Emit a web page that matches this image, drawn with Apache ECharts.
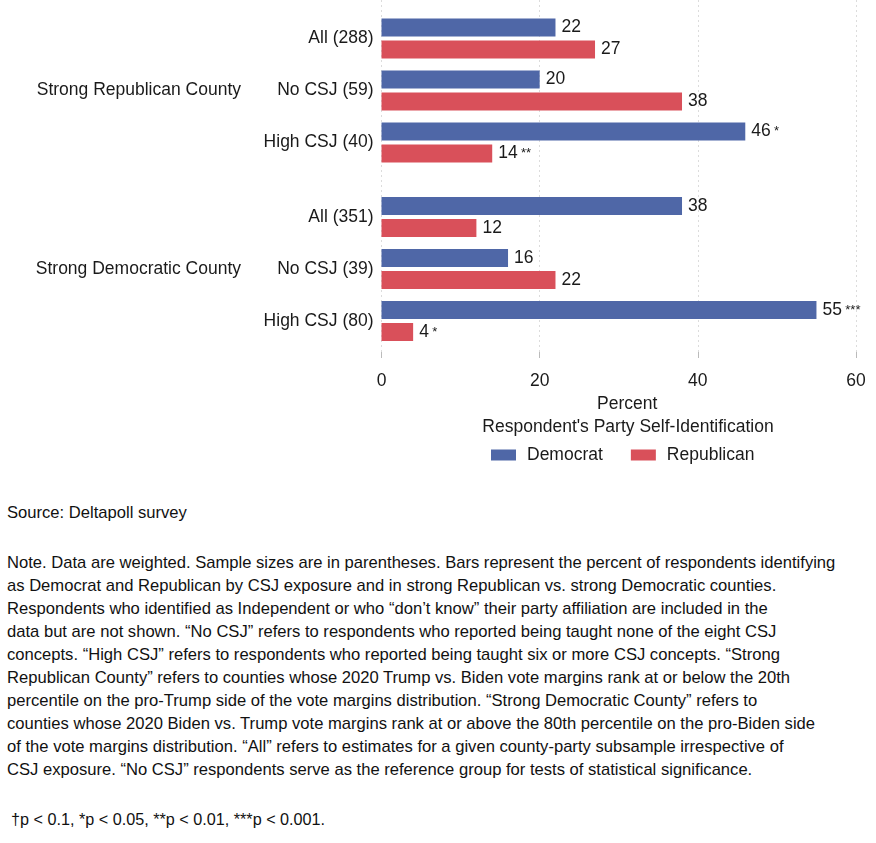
<!DOCTYPE html>
<html>
<head>
<meta charset="utf-8">
<script src="https://cdn.jsdelivr.net/npm/echarts@6/dist/echarts.min.js"></script>
<style>
  html, body { margin: 0; padding: 0; background: #fff; }
  body { width: 876px; height: 843px; position: relative; overflow: hidden; }
  #chart { position: absolute; left: 0; top: 0; width: 876px; height: 475px; }
  .txt { position: absolute; left: 7px; font-family: "Liberation Sans", Arial, sans-serif; font-size: 16.6px; line-height: 23px; color: #111; white-space: nowrap; }
</style>
</head>
<body>
<div id="chart"></div>
<div class="txt" style="top:501px;">Source: Deltapoll survey</div>
<div class="txt" style="top:551px;">Note. Data are weighted. Sample sizes are in parentheses. Bars represent the percent of respondents identifying<br>as Democrat and Republican by CSJ exposure and in strong Republican vs. strong Democratic counties.<br>Respondents who identified as Independent or who “don’t know” their party affiliation are included in the<br>data but are not shown. “No CSJ” refers to respondents who reported being taught none of the eight CSJ<br>concepts. “High CSJ” refers to respondents who reported being taught six or more CSJ concepts. “Strong<br>Republican County” refers to counties whose 2020 Trump vs. Biden vote margins rank at or below the 20th<br>percentile on the pro-Trump side of the vote margins distribution. “Strong Democratic County” refers to<br>counties whose 2020 Biden vs. Trump vote margins rank at or above the 80th percentile on the pro-Biden side<br>of the vote margins distribution. “All” refers to estimates for a given county-party subsample irrespective of<br>CSJ exposure. “No CSJ” respondents serve as the reference group for tests of statistical significance.</div>
<div class="txt" style="top:808px; left:11px; font-size:16.2px;">†p &lt; 0.1, *p &lt; 0.05, **p &lt; 0.01, ***p &lt; 0.001.</div>
<script>
// ---- data ----
const groupNames = ['Strong Republican County', 'Strong Democratic County'];
const repCountyRows = ['All (288)', 'No CSJ (59)', 'High CSJ (40)'];
const demCountyRows = ['All (351)', 'No CSJ (39)', 'High CSJ (80)'];
const seriesNames = ['Democrat', 'Republican'];
const repCountyDemocrat = [22, 20, 46];
const repCountyRepublican = [27, 38, 14];
const demCountyDemocrat = [38, 16, 55];
const demCountyRepublican = [12, 22, 4];
const repCountyDemocratSig = ['', '', '*'];
const repCountyRepublicanSig = ['', '', '**'];
const demCountyDemocratSig = ['', '', '***'];
const demCountyRepublicanSig = ['', '', '*'];
const xTicks = [0, 20, 40, 60];
const legendTitle = "Respondent's Party Self-Identification";
const xAxisTitle = 'Percent';

const FONT = '"Liberation Sans", Arial, Helvetica, sans-serif';
const FS = 17.5;
const BLUE = '#4f67a7';
const RED = '#d9505a';
const TXT = '#1a1a1a';

const chart = echarts.init(document.getElementById('chart'), null, { renderer: 'canvas' });

function barLabel(sig) {
  return {
    show: true,
    position: 'right',
    distance: 6,
    formatter: p => '{v|' + p.value + '}' + (sig[p.dataIndex] ? ' {s|' + sig[p.dataIndex] + '}' : ''),
    rich: {
      v: { fontSize: FS, fontFamily: FONT, color: TXT },
      s: { fontSize: 13, fontFamily: FONT, color: TXT }
    }
  };
}

function barSeries(name, xi, yi, data, sig, color) {
  return {
    name: name,
    type: 'bar',
    xAxisIndex: xi,
    yAxisIndex: yi,
    data: data,
    barWidth: 18,
    barGap: '22%',
    itemStyle: { color: color },
    label: barLabel(sig),
    silent: true
  };
}

const L = 381.5, R = 20;

function rowAxis(gi, rows) {
  return {
    gridIndex: gi, type: 'category', inverse: true, data: rows,
    axisLine: { show: false }, axisTick: { show: false },
    axisLabel: { fontSize: FS, color: TXT, margin: 8, fontFamily: FONT }
  };
}
function groupAxis(gi, name) {
  return {
    gridIndex: gi, type: 'category', inverse: true, position: 'left', offset: 132.5,
    data: ['', name, ''],
    axisLine: { show: false }, axisTick: { show: false },
    axisLabel: { fontSize: FS, color: TXT, margin: 8, fontFamily: FONT, interval: 0 }
  };
}

const option = {
  animation: false,
  textStyle: { fontFamily: FONT },
  grid: [
    { left: L, right: R, top: 0, height: 352 },
    { left: L, right: R, top: 12.5, height: 156 },
    { left: L, right: R, top: 191, height: 156 }
  ],
  xAxis: [
    {
      gridIndex: 0, type: 'value', min: xTicks[0], max: xTicks[xTicks.length - 1], interval: 20,
      offset: 10,
      axisLine: { show: false },
      axisTick: { show: true, length: 6, lineStyle: { color: '#bbb' } },
      axisLabel: { fontSize: FS, color: TXT, margin: 10, fontFamily: FONT },
      splitLine: { show: true, lineStyle: { color: '#dcdcdc', type: [2, 3], width: 1 } },
      name: xAxisTitle, nameLocation: 'middle', nameGap: 22,
      nameTextStyle: { fontSize: FS, color: TXT, fontFamily: FONT, padding: [0, 0, 0, 17] }
    },
    { gridIndex: 1, type: 'value', min: 0, max: 60, show: false },
    { gridIndex: 2, type: 'value', min: 0, max: 60, show: false }
  ],
  yAxis: [
    { gridIndex: 0, type: 'value', show: false },
    rowAxis(1, repCountyRows),
    groupAxis(1, groupNames[0]),
    rowAxis(2, demCountyRows),
    groupAxis(2, groupNames[1])
  ],
  legend: {
    data: seriesNames,
    left: 486, top: 441,
    itemWidth: 25, itemHeight: 11, itemGap: 28,
    icon: 'rect',
    textStyle: { fontSize: FS, color: TXT, fontFamily: FONT, padding: [0, 0, 0, 6] },
    selectedMode: false
  },
  graphic: [
    {
      type: 'text', x: 628, y: 427,
      style: { text: legendTitle, fontSize: FS, fill: TXT, fontFamily: FONT, textAlign: 'center', textVerticalAlign: 'middle' }
    }
  ],
  series: [
    barSeries(seriesNames[0], 1, 1, repCountyDemocrat, repCountyDemocratSig, BLUE),
    barSeries(seriesNames[1], 1, 1, repCountyRepublican, repCountyRepublicanSig, RED),
    barSeries(seriesNames[0], 2, 3, demCountyDemocrat, demCountyDemocratSig, BLUE),
    barSeries(seriesNames[1], 2, 3, demCountyRepublican, demCountyRepublicanSig, RED)
  ]
};
chart.setOption(option);
</script>
</body>
</html>
